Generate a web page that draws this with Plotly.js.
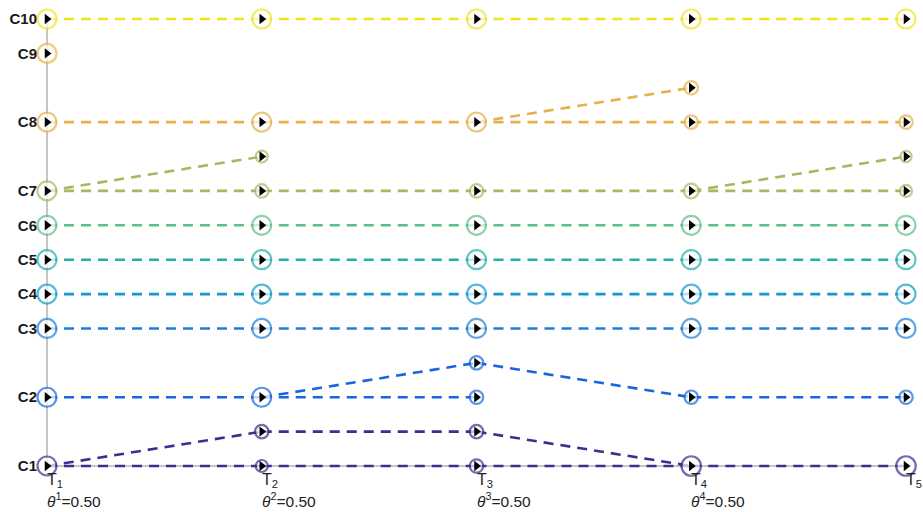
<!DOCTYPE html>
<html>
<head>
<meta charset="utf-8">
<script src="https://cdn.plot.ly/plotly-3.0.1.min.js"></script>
<style>
  html, body { margin: 0; padding: 0; background: #ffffff; }
  #chart { width: 923px; height: 512px; }
</style>
</head>
<body>
<div id="chart"></div>
<script>
// Stages along the horizontal axis
const stageIndex = [1, 2, 3, 4, 5];
const stageSubscripts = ['1', '2', '3', '4', '5'];
// Mixing parameter shown under each transition stage
const thetaValues = [0.50, 0.50, 0.50, 0.50];

// Cluster rows on the vertical axis
const clusterLabels = ['C1', 'C2', 'C3', 'C4', 'C5', 'C6', 'C7', 'C8', 'C9', 'C10'];
const clusterLevels = [0, 2, 4, 5, 6, 7, 8, 10, 12, 13];
const clusterColors = ['#3b2f8f', '#1666e0', '#1e7fd8', '#1199cf', '#22b0ab',
                       '#5cbf86', '#a3ba62', '#e4b24a', '#e9b73c', '#f0e41e'];

// Nodes per cluster: [stage, level, weight]
const nodesC1 = [[1, 0, 1], [2, 0, 0.4], [2, 1, 0.5], [3, 1, 0.5], [3, 0, 0.5], [4, 0, 1.05], [5, 0, 1.05]];
const nodesC2 = [[1, 2, 1], [2, 2, 1], [3, 2, 0.5], [3, 3, 0.5], [4, 2, 0.5], [5, 2, 0.5]];
const nodesC3 = [[1, 4, 1], [2, 4, 1], [3, 4, 1], [4, 4, 1], [5, 4, 1]];
const nodesC4 = [[1, 5, 1], [2, 5, 1], [3, 5, 1], [4, 5, 1], [5, 5, 1]];
const nodesC5 = [[1, 6, 1], [2, 6, 1], [3, 6, 1], [4, 6, 1], [5, 6, 1]];
const nodesC6 = [[1, 7, 1], [2, 7, 1], [3, 7, 1], [4, 7, 1], [5, 7, 1]];
const nodesC7 = [[1, 8, 1], [2, 8, 0.5], [2, 9, 0.4], [3, 8, 0.5], [4, 8, 0.6], [5, 8, 0.4], [5, 9, 0.35]];
const nodesC8 = [[1, 10, 1], [2, 10, 1], [3, 10, 1], [4, 10, 0.5], [4, 11, 0.5], [5, 10, 0.5]];
const nodesC9 = [[1, 12, 1]];
const nodesC10 = [[1, 13, 1], [2, 13, 1], [3, 13, 1], [4, 13, 1], [5, 13, 1]];

// Transitions per cluster: [fromStage, fromLevel, toStage, toLevel]
const edgesC1 = [[1, 0, 2, 0], [1, 0, 2, 1], [2, 1, 3, 1], [3, 1, 4, 0], [2, 0, 3, 0], [3, 0, 4, 0], [4, 0, 5, 0]];
const edgesC2 = [[1, 2, 2, 2], [2, 2, 3, 2], [2, 2, 3, 3], [3, 3, 4, 2], [4, 2, 5, 2]];
const edgesC3 = [[1, 4, 2, 4], [2, 4, 3, 4], [3, 4, 4, 4], [4, 4, 5, 4]];
const edgesC4 = [[1, 5, 2, 5], [2, 5, 3, 5], [3, 5, 4, 5], [4, 5, 5, 5]];
const edgesC5 = [[1, 6, 2, 6], [2, 6, 3, 6], [3, 6, 4, 6], [4, 6, 5, 6]];
const edgesC6 = [[1, 7, 2, 7], [2, 7, 3, 7], [3, 7, 4, 7], [4, 7, 5, 7]];
const edgesC7 = [[1, 8, 2, 8], [1, 8, 2, 9], [2, 8, 3, 8], [3, 8, 4, 8], [4, 8, 5, 8], [4, 8, 5, 9]];
const edgesC8 = [[1, 10, 2, 10], [2, 10, 3, 10], [3, 10, 4, 10], [4, 10, 5, 10], [3, 10, 4, 11]];
const edgesC9 = [];
const edgesC10 = [[1, 13, 2, 13], [2, 13, 3, 13], [3, 13, 4, 13], [4, 13, 5, 13]];

const allNodes = [nodesC1, nodesC2, nodesC3, nodesC4, nodesC5, nodesC6, nodesC7, nodesC8, nodesC9, nodesC10];
const allEdges = [edgesC1, edgesC2, edgesC3, edgesC4, edgesC5, edgesC6, edgesC7, edgesC8, edgesC9, edgesC10];

// marker diameter grows with the square root of the node weight
const sizeFor = w => 19 * Math.sqrt(w);

const edgeTraces = [];
const circleTraces = [];
const arrowTraces = [];

allEdges.forEach((edges, i) => {
  const xs = [], ys = [];
  edges.forEach(e => { xs.push(e[0], e[2], null); ys.push(e[1], e[3], null); });
  edgeTraces.push({
    x: xs, y: ys, type: 'scatter', mode: 'lines', cliponaxis: false,
    line: { color: clusterColors[i], width: 2.6, dash: '10px,7px' },
    hoverinfo: 'skip', showlegend: false
  });
});

allNodes.forEach((nodes, i) => {
  const xs = nodes.map(n => n[0]);
  const ys = nodes.map(n => n[1]);
  circleTraces.push({
    x: xs, y: ys, type: 'scatter', mode: 'markers', cliponaxis: false,
    marker: { symbol: 'circle', size: nodes.map(n => sizeFor(n[2])), color: '#ffffff',
              line: { color: clusterColors[i], width: 2.2 } },
    hoverinfo: 'skip', showlegend: false
  });
  arrowTraces.push({
    x: xs, y: ys, type: 'scatter', mode: 'markers', cliponaxis: false,
    marker: { symbol: 'triangle-right', size: 9, color: '#000000', line: { width: 0 } },
    hoverinfo: 'skip', showlegend: false
  });
});

const font = 'Liberation Sans, Arial, Helvetica, sans-serif';
const firstStage = stageIndex[0];
const lastStage = stageIndex[stageIndex.length - 1];
const lowLevel = clusterLevels[0];
const highLevel = clusterLevels[clusterLevels.length - 1];

const annotations = [];
stageIndex.forEach((s, k) => {
  annotations.push({
    x: s, y: lowLevel, xref: 'x', yref: 'y', xanchor: 'left', yanchor: 'top',
    yshift: -3, xshift: -2, showarrow: false,
    text: 'T<sub>' + stageSubscripts[k] + '</sub>',
    font: { family: font, size: 16, color: '#222222' }
  });
});
thetaValues.forEach((t, k) => {
  annotations.push({
    x: stageIndex[k], y: lowLevel, xref: 'x', yref: 'y', xanchor: 'left', yanchor: 'top',
    yshift: -22, xshift: -2, showarrow: false,
    text: '<i>θ</i><sup>' + (k + 1) + '</sup>=' + t.toFixed(2),
    font: { family: font, size: 15.5, color: '#222222' }
  });
});

// a few pixels of padding so the end lines are not clipped
const padX = 4 / (859 / (lastStage - firstStage));
const padY = 4 / (447 / (highLevel - lowLevel));

const layout = {
  width: 923, height: 512,
  margin: { l: 43, r: 13, t: 15, b: 42, pad: 0 },
  paper_bgcolor: '#ffffff', plot_bgcolor: '#ffffff',
  showlegend: false,
  xaxis: {
    range: [firstStage - padX, lastStage + padX], showgrid: false, zeroline: false,
    showticklabels: false, ticks: '', showline: false
  },
  yaxis: {
    range: [lowLevel - padY, highLevel + padY], showgrid: false, zeroline: false,
    tickvals: clusterLevels, ticktext: clusterLabels, ticks: '',
    ticklabelstandoff: 5,
    tickfont: { family: font, size: 15, color: '#1a1a1a', weight: 'bold' },
    showline: false
  },
  shapes: [
    { type: 'line', xref: 'x', yref: 'y', x0: firstStage, x1: lastStage, y0: lowLevel, y1: lowLevel,
      line: { color: '#8c8c8c', width: 1 }, layer: 'below' },
    { type: 'line', xref: 'x', yref: 'y', x0: firstStage, x1: firstStage, y0: lowLevel, y1: highLevel,
      line: { color: '#8c8c8c', width: 1 }, layer: 'below' }
  ],
  annotations: annotations
};

Plotly.newPlot('chart', edgeTraces.concat(circleTraces, arrowTraces), layout,
  { displayModeBar: false, staticPlot: true });
</script>
</body>
</html>
